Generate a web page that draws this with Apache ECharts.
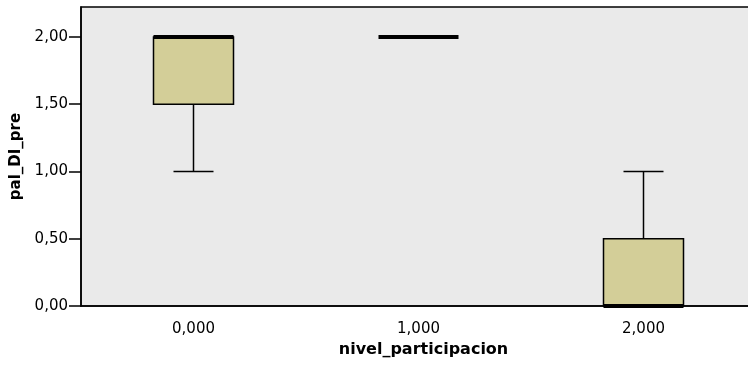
<!DOCTYPE html>
<html>
<head>
<meta charset="utf-8">
<script src="https://cdn.jsdelivr.net/npm/echarts@6/dist/echarts.min.js"></script>
<style>html,body{margin:0;padding:0;background:#fff;overflow:hidden}#c{width:760px;height:367px}</style>
</head>
<body>
<div id="c"></div>
<script>
const categories = ['0,000', '1,000', '2,000'];
const whiskerLow = [1.0, 2.0, 0.0];
const q1 = [1.5, 2.0, 0.0];
const median = [2.0, 2.0, 0.0];
const q3 = [2.0, 2.0, 0.5];
const whiskerHigh = [2.0, 2.0, 1.0];
const yTickValues = [0, 0.5, 1.0, 1.5, 2.0];
const yTickLabels = ['0,00', '0,50', '1,00', '1,50', '2,00'];
const xTitle = 'nivel_participacion';
const yTitle = 'pal_DI_pre';

const boxData = categories.map((c, i) => [i, whiskerLow[i], q1[i], median[i], q3[i], whiskerHigh[i]]);

const chart = echarts.init(document.getElementById('c'), null, {renderer: 'canvas'});
const font = 'DejaVu Sans';
chart.setOption({
  animation: false,
  backgroundColor: '#ffffff',
  grid: {
    left: 81, top: 7, width: 675, bottom: 61,
    show: true, backgroundColor: '#eaeaea', borderColor: '#000', borderWidth: 1.5
  },
  xAxis: {
    type: 'category',
    data: categories,
    boundaryGap: true,
    name: xTitle,
    nameLocation: 'middle',
    nameGap: 30,
    nameTextStyle: {fontFamily: font, fontWeight: 'bold', fontSize: 16, color: '#000', padding: [0, 0, 0, 10]},
    axisLine: {lineStyle: {color: '#000', width: 1.5}},
    axisTick: {alignWithLabel: true, length: 10, lineStyle: {color: '#000', width: 1.5}},
    axisLabel: {fontFamily: font, fontSize: 15, color: '#000', margin: 16},
    splitLine: {show: false}
  },
  yAxis: {
    type: 'value',
    min: 0, max: 2.223,
    name: yTitle,
    nameLocation: 'middle',
    nameGap: 54,
    nameTextStyle: {fontFamily: font, fontWeight: 'bold', fontSize: 15, color: '#000'},
    axisLine: {show: true, lineStyle: {color: '#000', width: 1.5}},
    axisTick: {show: true, length: 12, customValues: yTickValues, lineStyle: {color: '#000', width: 1.5}},
    axisLabel: {
      fontFamily: font, fontSize: 15, color: '#000', margin: 13,
      customValues: yTickValues,
      formatter: v => yTickLabels[yTickValues.indexOf(v)] ?? ''
    },
    splitLine: {show: false}
  },
  series: [{
    type: 'custom',
    data: boxData,
    clip: false,
    renderItem: function (params, api) {
      const idx = api.value(0);
      const band = api.size([1, 0])[0];
      const half = band * 40 / 225;
      const capHalf = half / 2;
      const cx = api.coord([idx, 0])[0];
      const y = k => api.coord([idx, api.value(k)])[1];
      const yLow = y(1), yQ1 = y(2), yMed = y(3), yQ3 = y(4), yHigh = y(5);
      const thin = {stroke: '#000', lineWidth: 1.5};
      const children = [];
      if (api.value(5) > api.value(4)) {
        children.push({type: 'line', shape: {x1: cx, y1: yQ3, x2: cx, y2: yHigh}, style: thin});
        children.push({type: 'line', shape: {x1: cx - capHalf, y1: yHigh, x2: cx + capHalf, y2: yHigh}, style: thin});
      }
      if (api.value(1) < api.value(2)) {
        children.push({type: 'line', shape: {x1: cx, y1: yQ1, x2: cx, y2: yLow}, style: thin});
        children.push({type: 'line', shape: {x1: cx - capHalf, y1: yLow, x2: cx + capHalf, y2: yLow}, style: thin});
      }
      if (api.value(4) > api.value(2)) {
        children.push({type: 'rect', shape: {x: cx - half, y: yQ3, width: 2 * half, height: yQ1 - yQ3},
          style: {fill: '#d3ce98', stroke: '#000', lineWidth: 1.5}});
      }
      children.push({type: 'line', shape: {x1: cx - half, y1: yMed, x2: cx + half, y2: yMed},
        style: {stroke: '#000', lineWidth: 4}});
      return {type: 'group', children: children};
    }
  }]
});
</script>
</body>
</html>
